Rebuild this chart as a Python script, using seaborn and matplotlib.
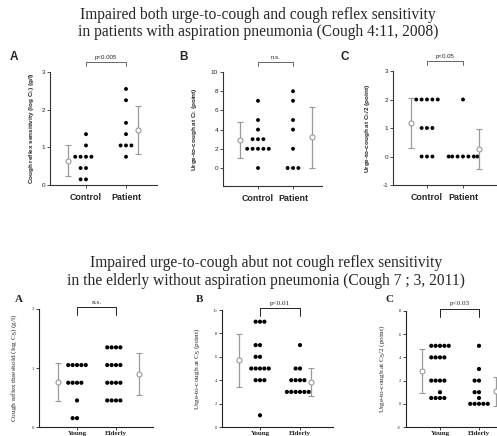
import numpy as np
import pandas as pd
import seaborn as sns
import matplotlib.pyplot as plt
import matplotlib.transforms as mtransforms

W, H = 497, 436

# ---- top study (Cough 4:11, 2008) ----
TOP_GROUPS = ["Control", "Patient"]
a_control = [1.35, 1.05, 0.75, 0.75, 0.75, 0.75, 0.45, 0.45, 0.15, 0.15]
a_patient = [2.55, 2.25, 1.65, 1.35, 1.05, 1.05, 1.05, 0.75]
a_mean = [0.64, 1.46]
a_sd = [0.41, 0.64]

b_control = [7, 5, 4, 3, 3, 3, 2, 2, 2, 2, 2, 0]
b_patient = [8, 7, 5, 4, 2, 0, 0, 0]
b_mean = [2.96, 3.2]
b_sd = [1.88, 3.2]

c_control = [2, 2, 2, 2, 2, 1, 1, 1, 0, 0, 0]
c_patient = [2, 0, 0, 0, 0, 0, 0, 0]
c_mean = [1.18, 0.26]
c_sd = [0.87, 0.7]

# ---- bottom study (Cough 7;3, 2011) ----
BOT_GROUPS = ["Young", "Elderly"]
d_young = [1.05, 1.05, 1.05, 1.05, 1.05, 0.75, 0.75, 0.75, 0.75, 0.45, 0.15, 0.15]
d_elderly = [1.35, 1.35, 1.35, 1.35, 1.05, 1.05, 1.05, 1.05,
             0.75, 0.75, 0.75, 0.75, 0.45, 0.45, 0.45, 0.45]
d_mean = [0.76, 0.9]
d_sd = [0.32, 0.35]

e_young = [9, 9, 9, 7, 7, 6, 6, 5, 5, 5, 5, 5, 4, 4, 4, 1]
e_elderly = [7, 5, 5, 4, 4, 4, 4, 3, 3, 3, 3, 3, 3]
e_mean = [5.7, 3.87]
e_sd = [2.25, 1.2]

f_young = [5, 5, 5, 5, 5, 4, 4, 4, 4, 2, 2, 2, 2, 1, 0.5, 0.5, 0.5, 0.5]
f_elderly = [5, 3, 2, 2, 1, 1, 0.5, 0, 0, 0, 0, 0]
f_mean = [2.85, 1.1]
f_sd = [1.88, 1.25]

TOP_YLABELS = ["Cough reflex sensitivity (log C$_5$) (g/l)",
               "Urge-to-cough at C$_5$ (point)",
               "Urge-to-cough at C$_5$/2 (point)"]
BOT_YLABELS = ["Cough reflex threshold (log C$_5$) (g/l)",
               "Urge-to-cough at C$_5$ (point)",
               "Urge-to-cough at C$_5$/2 (point)"]
TOP_PTEXT = ["p<0.005", "n.s.", "p<0.05"]
BOT_PTEXT = ["n.s.", "p<0.01", "p<0.03"]

sns.set_style("ticks")
plt.rcParams["font.family"] = ["Liberation Sans", "DejaVu Sans"]
plt.rcParams["mathtext.fontset"] = "custom"
plt.rcParams["mathtext.rm"] = "Liberation Sans"
plt.rcParams["mathtext.it"] = "Liberation Sans"

fig = plt.figure(figsize=(W / 100, H / 100), dpi=100)


def make_axes(l, r, t, b):
    return fig.add_axes([l / W, 1 - b / H, (r - l) / W, (b - t) / H])


def draw_panel(ax, groups, v0, v1, mean, sd, box, ylim, yticks, ylabel, ptext, top):
    l, r, t, b, c0, c1, m0, m1, lab_px = box
    unit = c1 - c0
    df = pd.DataFrame({
        "group": [groups[0]] * len(v0) + [groups[1]] * len(v1),
        "value": list(v0) + list(v1),
    })
    if top:
        dot, lw, serif = 2.8, 0.9, False
    else:
        dot, lw, serif = 3.0, 0.0, True
    sns.swarmplot(data=df, x="group", y="value", order=groups, ax=ax,
                  color="black", size=dot, linewidth=lw, edgecolor="none",
                  warn_thresh=1.0)
    grey = "#9a9a9a"
    ax.errorbar([(m0 - c0) / unit, (m1 - c0) / unit], mean, yerr=sd, fmt="o",
                ms=3.6, mfc="white", mec=grey, mew=0.8, ecolor=grey,
                elinewidth=0.9, capsize=2.4, capthick=0.9, zorder=3)
    ax.set_xlim((l - c0) / unit, (r - c0) / unit)
    ax.set_ylim(*ylim)
    ax.set_yticks(yticks)
    ax.set_xticks([0, 1])
    fam = ["Liberation Serif", "DejaVu Serif"] if serif else ["Liberation Sans", "DejaVu Sans"]
    spine_col = "#333333" if top else "#222222"
    for s in ["top", "right"]:
        ax.spines[s].set_visible(False)
    for s in ["left", "bottom"]:
        ax.spines[s].set_color(spine_col)
        ax.spines[s].set_linewidth(0.8)
    ax.tick_params(axis="both", length=2, width=0.6, color=spine_col)
    ax.tick_params(axis="y", labelsize=4.6 if top else 3.3, pad=1.5)
    ax.tick_params(axis="x", labelsize=6.4 if top else 5.0,
                   pad=3.5 if top else 0.8)
    ax.set_yticklabels([str(v) for v in yticks], family=fam)
    ax.set_xticklabels(groups, family=fam, fontweight="bold")
    ax.set_xlabel("")
    ax.set_ylabel(ylabel, fontsize=4.6 if top else 5.2, family=fam,
                  fontweight="bold" if top else "normal")
    ax.yaxis.set_label_coords(-(l - lab_px) / (r - l), 0.5)
    # significance bracket above the two groups
    hp = b - t
    tr = mtransforms.blended_transform_factory(ax.transData, ax.transAxes)
    if top:
        y_top, y_leg, y_txt = 1 + 10 / hp, 1 + 6 / hp, 1 + 14.5 / hp
    else:
        y_top, y_leg, y_txt = 1 + 2 / hp, 1 - 6 / hp, 1 + 7 / hp
    ax.plot([0, 0, 1, 1], [y_leg, y_top, y_top, y_leg], transform=tr,
            color="#666666" if top else "#222222", lw=0.7, clip_on=False)
    ax.text(0.5, y_txt, ptext, transform=tr, ha="center", va="center",
            fontsize=4.4 if top else 5.2, family=fam)


# pixel boxes: left, right, top, bottom, cat0 x, cat1 x, mean0 x, mean1 x, ylabel right edge
top_boxes = [
    (50, 157, 72, 185, 86, 126, 68, 138, 36),
    (223, 322, 72, 186, 258, 293, 240, 312, 199),
    (393, 496, 71, 185, 427, 463, 411, 479, 372),
]
bot_boxes = [
    (39, 153, 309, 427, 77, 116, 58, 139, 19),
    (222, 333, 310, 427, 260, 300, 239, 311, 202),
    (406, 520, 311, 427, 440, 479, 422, 496, 387),
]

top_data = [(a_control, a_patient, a_mean, a_sd, (0, 3), [0, 1, 2, 3]),
            (b_control, b_patient, b_mean, b_sd, (-1.875, 10), [0, 2, 4, 6, 8, 10]),
            (c_control, c_patient, c_mean, c_sd, (-1, 3), [-1, 0, 1, 2, 3])]
bot_data = [(d_young, d_elderly, d_mean, d_sd, (0, 2), [0, 1, 2]),
            (e_young, e_elderly, e_mean, e_sd, (0, 10), [0, 2, 4, 6, 8, 10]),
            (f_young, f_elderly, f_mean, f_sd, (-2, 8), [-2, 0, 2, 4, 6, 8])]

for i in range(3):
    v0, v1, mn, sd, yl, yt = top_data[i]
    ax = make_axes(*top_boxes[i][:4])
    draw_panel(ax, TOP_GROUPS, v0, v1, mn, sd, top_boxes[i], yl, yt,
               TOP_YLABELS[i], TOP_PTEXT[i], True)
for i in range(3):
    v0, v1, mn, sd, yl, yt = bot_data[i]
    ax = make_axes(*bot_boxes[i][:4])
    draw_panel(ax, BOT_GROUPS, v0, v1, mn, sd, bot_boxes[i], yl, yt,
               BOT_YLABELS[i], BOT_PTEXT[i], False)

serif = ["Liberation Serif", "DejaVu Serif"]
fig.text(258 / W, 1 - 15 / H, "Impaired both urge-to-cough and cough reflex sensitivity",
         ha="center", va="center", fontsize=11.2, family=serif)
fig.text(258 / W, 1 - 32 / H, "in patients with aspiration pneumonia (Cough 4:11, 2008)",
         ha="center", va="center", fontsize=11.2, family=serif)
fig.text(266 / W, 1 - 263 / H, "Impaired urge-to-cough abut not cough reflex sensitivity",
         ha="center", va="center", fontsize=11.2, family=serif)
fig.text(266 / W, 1 - 281 / H, "in the elderly without aspiration pneumonia (Cough 7 ; 3, 2011)",
         ha="center", va="center", fontsize=11.2, family=serif)

for x, s in [(14, "A"), (184, "B"), (345, "C")]:
    fig.text(x / W, 1 - 57 / H, s, ha="center", va="center", fontsize=8.5,
             fontweight="bold")
for x, s in [(19, "A"), (200, "B"), (390, "C")]:
    fig.text(x / W, 1 - 300 / H, s, ha="center", va="center", fontsize=8,
             fontweight="bold", family=serif)

fig.savefig("out.png", dpi=100)
